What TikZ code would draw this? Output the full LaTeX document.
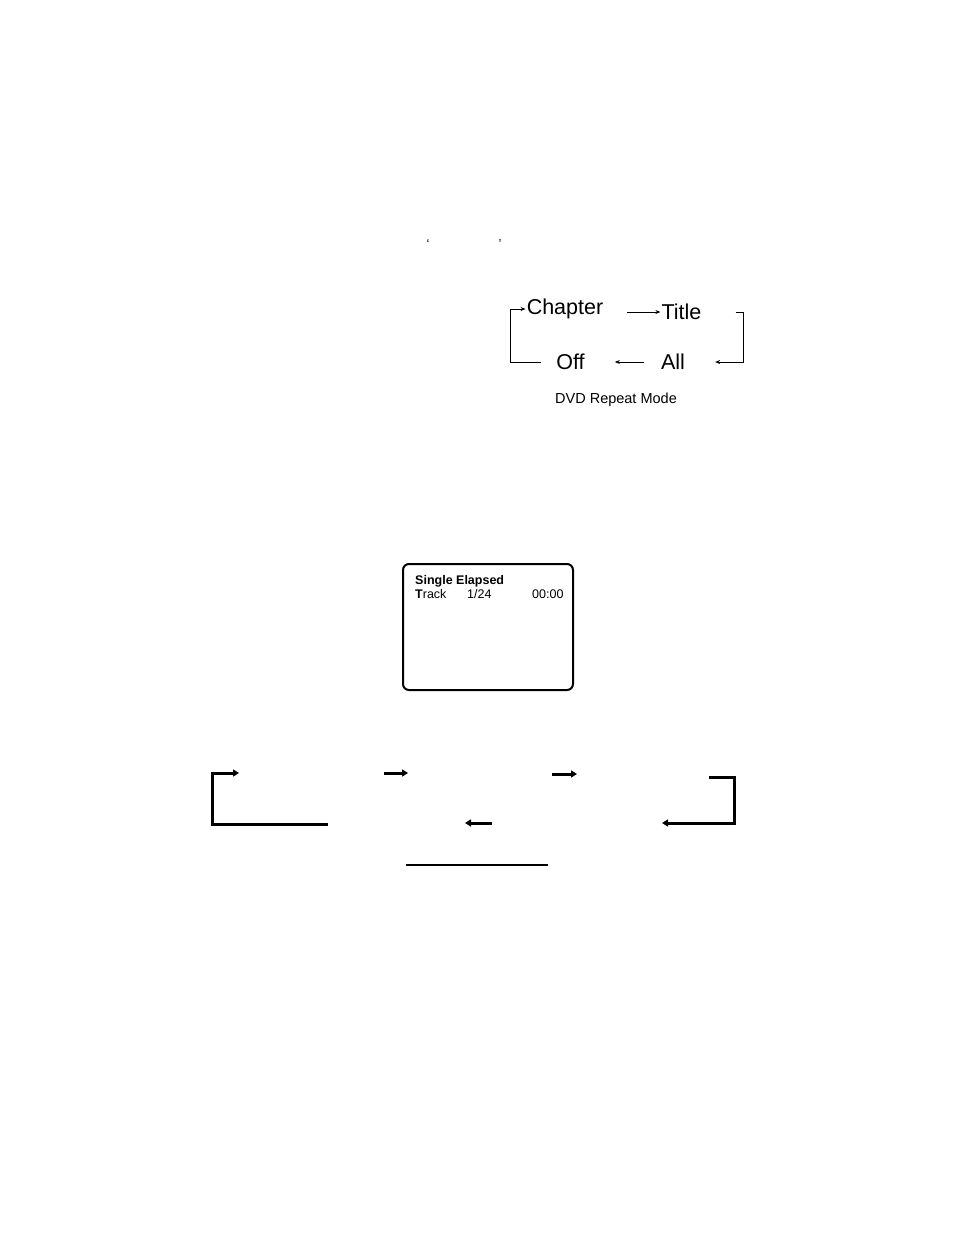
\documentclass[tikz,border=0pt]{standalone}
\usepackage{fontspec}
\setmainfont{Liberation Sans}
\usepackage{tikz}
\usetikzlibrary{arrows.meta, positioning, calc}
\tikzset{
    modelabel/.style={inner sep=1pt, font=\fontsize{21.5}{24}\selectfont},
    caption/.style={inner sep=1pt, font=\fontsize{14.5}{17}\selectfont},
    screentext/.style={inner sep=0pt, anchor=west, font=\fontsize{12.5}{14}\selectfont},
    quotemark/.style={inner sep=0pt, font=\fontsize{13}{14}\selectfont},
    thinarrow/.style={line width=1pt, -{Stealth[length=5pt, width=4pt]}},
    thinline/.style={line width=1pt},
    heavyarrow/.style={line width=3pt, -{Triangle[length=6pt, width=7pt]}},
    heavyline/.style={line width=3pt},
    screen/.style={draw, line width=2pt, rounded corners=6pt}
}
\begin{document}
\begin{tikzpicture}[x=1pt, y=-1pt]
    \useasboundingbox (0,0) rectangle (954,1235);
    % quote marks
    \node[quotemark] (lq) at (428,244) {‘};
    \node[quotemark] (rq) at (500,244) {’};
    % DVD repeat mode
    \node[modelabel] (chapter) at (565,309) {Chapter};
    \node[modelabel] (title) at (681.5,312) {Title};
    \node[modelabel] (off) at (570.5,362) {Off};
    \node[modelabel] (all) at (673,362) {All};
    \node[caption] (dvdcap) at (616,400) {DVD Repeat Mode};
    \draw[thinarrow] ([xshift=-33]title.west) -- (title.west);
    \draw[thinarrow] ([xshift=33]title.east) -- ++(8,0) |- ([xshift=29]all.east);
    \draw[thinarrow] ([xshift=-16]all.west) -- ([xshift=29]off.east);
    \draw[thinarrow] ([xshift=-14]off.west) -- ++(-31,0) |- (chapter.west);
    % screen
    \draw[screen] (403,564) rectangle (573,690);
    \node[screentext, font=\fontsize{12.5}{14}\selectfont\bfseries] (single) at (415,581) {Single Elapsed};
    \node[screentext] (track) at (415,594) {\textbf{T}rack};
    \node[screentext] (count) at (467,594) {1/24};
    \node[screentext] (time) at (532,594) {00:00};
    % repeat loop below
    \coordinate (la) at (328,824);
    \coordinate (lb) at (212,773);
    \coordinate (lc) at (239,773);
    \coordinate (ma) at (384,773);
    \coordinate (mb) at (408,773);
    \coordinate (na) at (552,774);
    \coordinate (nb) at (577,774);
    \coordinate (ra) at (709,777);
    \coordinate (rb) at (734,823);
    \coordinate (rc) at (662,823);
    \coordinate (ba) at (492,823);
    \coordinate (bb) at (465,823);
    \draw[heavyarrow] (la) -| (lb) -- (lc);
    \draw[heavyarrow] (ma) -- (mb);
    \draw[heavyarrow] (na) -- (nb);
    \draw[heavyarrow] (ra) -| (rb) -- (rc);
    \draw[heavyarrow] (ba) -- (bb);
    \coordinate (ua) at (406,865);
    \coordinate (ub) at (548,865);
    \draw[line width=2.5pt] (ua) -- (ub);
\end{tikzpicture}
\end{document}
